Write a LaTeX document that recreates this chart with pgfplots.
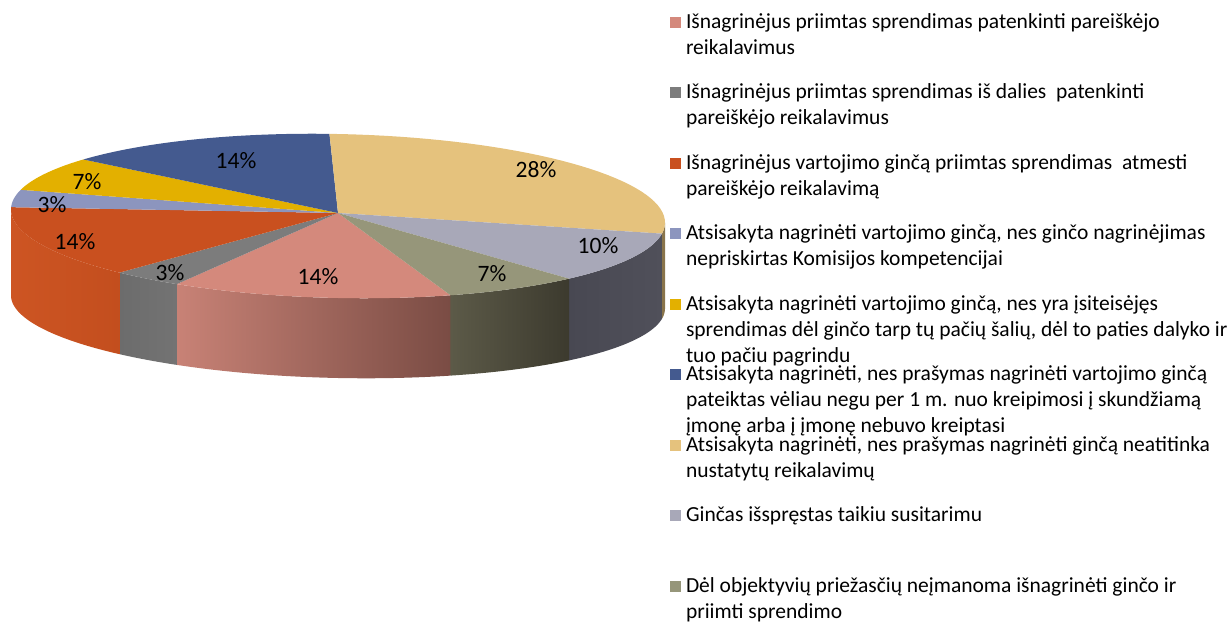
\documentclass[border=0pt]{standalone}
\usepackage{fontspec}
\setmainfont{Carlito}
\usepackage{pgfplots}
\pgfplotsset{compat=1.18}
\definecolor{cSal}{RGB}{212,137,124}
\definecolor{cGry}{RGB}{124,124,124}
\definecolor{cOra}{RGB}{201,80,31}
\definecolor{cLbl}{RGB}{140,149,190}
\definecolor{cYel}{RGB}{227,176,0}
\definecolor{cBlu}{RGB}{68,90,143}
\definecolor{cTan}{RGB}{229,194,125}
\definecolor{cLgr}{RGB}{168,168,184}
\definecolor{cOli}{RGB}{150,150,122}
% top face of a slice: #1 start angle, #2 end angle, #3 colour
\newcommand{\face}[3]{%
\addplot[fill=#3, draw=none, variable=\s, samples at={0,1,...,41}]
 ({338+(\s>0.5)*327*cos(#1+(#2-#1)*(\s-1)/40)},
  {409+(\s>0.5)*(-3+82*sin(#1+(#2-#1)*(\s-1)/40)-6.54*cos(#1+(#2-#1)*(\s-1)/40))});}
% side wall of a slice: #1 start angle, #2 end angle, #3 fill options
\newcommand{\wall}[3]{%
\addplot[#3, draw=none, forget plot, variable=\s, samples at={0,1,...,40,100,101,...,140}]
 ({338+327*cos(#1+(#2-#1)*min(\s,140-\s)/40)},
  {406+82*sin(#1+(#2-#1)*min(\s,140-\s)/40)-6.54*cos(#1+(#2-#1)*min(\s,140-\s)/40)-(\s>70)*(86+6*sin(#1+(#2-#1)*min(\s,140-\s)/40))});}
\begin{document}
\begin{tikzpicture}
% counts of cases per category (29 in all), legend order
\def\cA{4}\def\cB{1}\def\cC{4}\def\cD{1}\def\cE{2}\def\cF{4}\def\cG{8}\def\cH{3}\def\cI{2}
\pgfmathsetmacro{\u}{360/(\cA+\cB+\cC+\cD+\cE+\cF+\cG+\cH+\cI)}
\pgfmathsetmacro{\aA}{91.5-(\cG+\cH+\cI)*\u}
\pgfmathsetmacro{\aB}{\aA-\cA*\u}
\pgfmathsetmacro{\aC}{\aB-\cB*\u}
\pgfmathsetmacro{\aD}{\aC-\cC*\u}
\pgfmathsetmacro{\aE}{\aD-\cD*\u}
\pgfmathsetmacro{\aF}{\aE-\cE*\u}
\pgfmathsetmacro{\aG}{\aF-\cF*\u}
\pgfmathsetmacro{\aH}{\aG-\cG*\u}
\pgfmathsetmacro{\aI}{\aH-\cH*\u}
\pgfmathsetmacro{\aJ}{\aI-\cI*\u}
\pgfmathsetmacro{\wH}{\aH+360}
\pgfmathsetmacro{\wI}{\aI+360}
\path[use as bounding box] (0,0) rectangle (1230pt,622pt);
\begin{axis}[
  at={(0,0)}, anchor=south west,
  x=1pt, y=1pt, xmin=0, xmax=1230, ymin=0, ymax=622,
  scale only axis, hide axis, clip=false,
  legend cell align=left,
  legend image code/.code={\fill[#1] (0pt,0.5pt) rectangle (11pt,11.5pt);},
  legend style={at={(axis cs:670,608.7)}, anchor=north west, draw=none, fill=none,
    inner sep=0pt, outer sep=0pt, row sep=0pt, column sep=5pt,
    font=\fontsize{21.5}{26}\selectfont,
    nodes={inner sep=0pt, outer sep=0pt, text height=15pt, text depth=55.5pt, anchor=base west}},
]
% side walls (front half only)
\wall{\wH}{0}{fill=cTan!60!black}
\wall{\wI}{\wH}{left color={rgb,255:red,72;green,72;blue,82}, right color={rgb,255:red,80;green,80;blue,90}}
\wall{\aA}{\wI}{left color={rgb,255:red,92;green,90;blue,72}, right color={rgb,255:red,60;green,58;blue,46}}
\wall{\aB}{\aA}{left color={rgb,255:red,200;green,130;blue,118}, right color={rgb,255:red,122;green,76;blue,68}}
\wall{\aC}{\aB}{left color={rgb,255:red,108;green,108;blue,108}, right color={rgb,255:red,115;green,115;blue,115}}
\wall{-180}{\aC}{left color={rgb,255:red,205;green,85;blue,35}, right color={rgb,255:red,195;green,78;blue,30}}
% top faces
\face{\aA}{\aB}{cSal}
\addlegendentry{\parbox[t]{600pt}{\raggedright Išnagrinėjus priimtas sprendimas patenkinti pareiškėjo\\reikalavimus}}
\face{\aB}{\aC}{cGry}
\addlegendentry{\parbox[t]{600pt}{\raggedright Išnagrinėjus priimtas sprendimas iš dalies\ \ patenkinti\\pareiškėjo reikalavimus}}
\face{\aC}{\aD}{cOra}
\addlegendentry{\parbox[t]{600pt}{\raggedright Išnagrinėjus vartojimo ginčą priimtas sprendimas\ \ atmesti\\pareiškėjo reikalavimą}}
\face{\aD}{\aE}{cLbl}
\addlegendentry{\parbox[t]{600pt}{\raggedright Atsisakyta nagrinėti vartojimo ginčą, nes ginčo nagrinėjimas\\nepriskirtas Komisijos kompetencijai}}
\face{\aE}{\aF}{cYel}
\addlegendentry{\parbox[t]{600pt}{\raggedright Atsisakyta nagrinėti vartojimo ginčą, nes yra įsiteisėjęs\\sprendimas dėl ginčo tarp tų pačių šalių, dėl to paties dalyko ir\\tuo pačiu pagrindu}}
\face{\aF}{\aG}{cBlu}
\addlegendentry{\parbox[t]{600pt}{\raggedright Atsisakyta nagrinėti, nes prašymas nagrinėti vartojimo ginčą\\pateiktas vėliau negu per 1 m. nuo kreipimosi į skundžiamą\\įmonę arba į įmonę nebuvo kreiptasi}}
\face{\aG}{\aH}{cTan}
\addlegendentry{\parbox[t]{600pt}{\raggedright Atsisakyta nagrinėti, nes prašymas nagrinėti ginčą neatitinka\\nustatytų reikalavimų}}
\face{\aH}{\aI}{cLgr}
\addlegendentry{\parbox[t]{600pt}{\raggedright Ginčas išspręstas taikiu susitarimu}}
\face{\aI}{\aJ}{cOli}
\addlegendentry{\parbox[t]{600pt}{\raggedright Dėl objektyvių priežasčių neįmanoma išnagrinėti ginčo ir\\priimti sprendimo}}
% percentage labels
\begin{scope}[every node/.style={font=\fontsize{23.5}{26}\selectfont, inner sep=0pt}]
\node at (axis cs:318,345) {14\%};
\node at (axis cs:170,349) {3\%};
\node at (axis cs:75,380) {14\%};
\node at (axis cs:52,417) {3\%};
\node at (axis cs:87,440) {7\%};
\node at (axis cs:236,461) {14\%};
\node at (axis cs:536,452) {28\%};
\node at (axis cs:598,376) {10\%};
\node at (axis cs:492,348) {7\%};
\end{scope}
\end{axis}
\end{tikzpicture}
\end{document}
